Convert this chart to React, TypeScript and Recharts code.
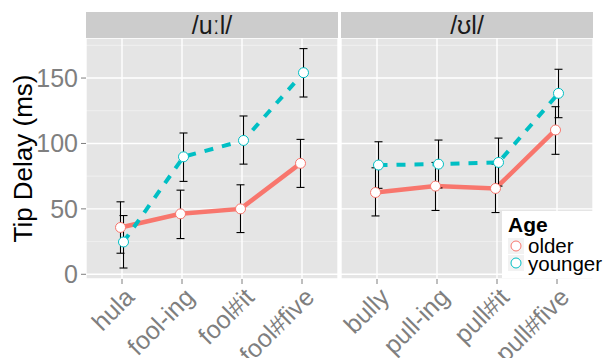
import React from "react";
import { LineChart, Line, XAxis, YAxis, CartesianGrid, ErrorBar } from "recharts";

// /uːl/ panel
const uulCats = ["hula", "fool-ing", "fool#it", "fool#five"];
const uulOlder = [35.8, 46.2, 50.0, 84.8];
const uulOlderLo = [16.1, 27.3, 31.9, 66.4];
const uulOlderHi = [55.4, 64.3, 68.4, 103.1];
const uulYounger = [24.7, 89.8, 102.3, 154.1];
const uulYoungerLo = [4.8, 71.0, 84.2, 135.5];
const uulYoungerHi = [44.9, 108.0, 121.0, 172.5];

// /ʊl/ panel
const ulCats = ["bully", "pull-ing", "pull#it", "pull#five"];
const ulOlder = [62.5, 67.4, 65.6, 110.3];
const ulOlderLo = [44.6, 48.8, 47.2, 91.7];
const ulOlderHi = [81.4, 85.5, 84.2, 128.1];
const ulYounger = [83.5, 84.2, 85.5, 138.3];
const ulYoungerLo = [65.7, 66.0, 67.4, 119.7];
const ulYoungerHi = [101.3, 102.6, 104.1, 156.7];

const yTicks = [0, 50, 100, 150];
const yMinor = [25, 75, 125, 175];

const FONT = '"Liberation Sans", Arial, Helvetica, sans-serif';
const RED = "#F8766D";
const CYAN = "#00BFC4";
const GREY = "#7f7f7f";
const DODGE = 0.025;

const rows = (vals: number[], lo: number[], hi: number[], shift: number) =>
  vals.map((v, i) => ({ x: i + 1 + shift, y: v, err: [v - lo[i], hi[i] - v] }));

// rotated category labels, right end hung at the tick
const XTick = ({ x, y, payload, cats }: any) => {
  const label = cats[Math.round(payload.value) - 1];
  const ax = x + 1;
  return (
    <text
      x={ax}
      y={y}
      dy="0.72em"
      transform={`rotate(-45 ${ax} ${y})`}
      textAnchor="end"
      fill={GREY}
      fontSize={25}
      fontFamily={FONT}
    >
      {label}
    </text>
  );
};

const YTitle = ({ viewBox }: any) => {
  const cx = viewBox.x + 32;
  const cy = viewBox.y + viewBox.height / 2;
  return (
    <text
      x={cx}
      y={cy}
      transform={`rotate(-90 ${cx} ${cy})`}
      textAnchor="middle"
      fill="#000"
      fontSize={26}
      fontFamily={FONT}
    >
      Tip Delay (ms)
    </text>
  );
};

interface PanelProps {
  cats: string[];
  older: any[];
  younger: any[];
  showY: boolean;
  width: number;
  margin: any;
}

const Panel = ({ cats, older, younger, showY, width, margin }: PanelProps) => (
  <LineChart width={width} height={358} margin={margin}>
    <CartesianGrid
      fill="#e5e5e5"
      stroke="#f2f2f2"
      strokeWidth={0.8}
      strokeDasharray=""
      vertical={false}
      horizontalValues={yMinor}
    />
    <CartesianGrid stroke="#ffffff" strokeWidth={1.4} strokeDasharray="" />
    <XAxis
      type="number"
      dataKey="x"
      domain={[0.4, 4.6]}
      ticks={[1, 2, 3, 4]}
      axisLine={false}
      tickLine={{ stroke: GREY }}
      tickSize={5}
      tickMargin={2}
      height={79}
      interval={0}
      tick={<XTick cats={cats} />}
    />
    <YAxis
      type="number"
      domain={[-3.6, 180.6]}
      ticks={yTicks}
      hide={!showY}
      width={86}
      axisLine={false}
      tickLine={{ stroke: GREY }}
      tickSize={5}
      tickMargin={3}
      tick={{ fill: GREY, fontSize: 25, fontFamily: FONT }}
      label={showY ? { content: <YTitle /> } : undefined}
    />
    <Line
      data={older}
      dataKey="y"
      stroke={RED}
      strokeWidth={4.5}
      dot={{ r: 5, fill: "#fff", stroke: RED, strokeWidth: 1 }}
      activeDot={false}
      isAnimationActive={false}
    >
      <ErrorBar dataKey="err" direction="y" width={4} stroke="#000" strokeWidth={1.1} isAnimationActive={false} />
    </Line>
    <Line
      data={younger}
      dataKey="y"
      stroke={CYAN}
      strokeWidth={4}
      strokeDasharray="9 9"
      dot={{ r: 5, fill: "#fff", stroke: CYAN, strokeWidth: 1, strokeDasharray: "" }}
      activeDot={false}
      isAnimationActive={false}
    >
      <ErrorBar dataKey="err" direction="y" width={4} stroke="#000" strokeWidth={1.1} isAnimationActive={false} />
    </Line>
  </LineChart>
);

const Strip = ({ left, text }: { left: number; text: string }) => (
  <div
    style={{
      position: "absolute",
      left,
      top: 12,
      width: 252,
      height: 26,
      background: "#cccccc",
      color: "#1a1a1a",
      fontFamily: FONT,
      fontSize: 25,
      lineHeight: "27px",
      textAlign: "center",
    }}
  >
    {text}
  </div>
);

const KeyRow = ({ color, label }: { color: string; label: string }) => (
  <div style={{ display: "flex", alignItems: "center", height: 17.5 }}>
    <svg width={16} height={16} style={{ background: "#f2f2f2", marginRight: 4, flexShrink: 0 }}>
      <circle cx={8} cy={8} r={5} fill="#fff" stroke={color} strokeWidth={1} />
    </svg>
    <span style={{ fontSize: 20.5, lineHeight: "17px", whiteSpace: "nowrap" }}>{label}</span>
  </div>
);

export default function App() {
  const uulO = rows(uulOlder, uulOlderLo, uulOlderHi, -DODGE);
  const uulY = rows(uulYounger, uulYoungerLo, uulYoungerHi, DODGE);
  const ulO = rows(ulOlder, ulOlderLo, ulOlderHi, -DODGE);
  const ulY = rows(ulYounger, ulYoungerLo, ulYoungerHi, DODGE);

  return (
    <div style={{ position: "absolute", left: 0, top: 0, width: 604, height: 358, background: "#fff", fontFamily: FONT }}>
      <div style={{ position: "absolute", left: 0, top: 0 }}>
        <Panel cats={uulCats} older={uulO} younger={uulY} showY width={340} margin={{ top: 38, right: 2, left: 0, bottom: 0 }} />
      </div>
      <div style={{ position: "absolute", left: 300, top: 0 }}>
        <Panel cats={ulCats} older={ulO} younger={ulY} showY={false} width={304} margin={{ top: 38, right: 11, left: 41, bottom: 0 }} />
      </div>
      <Strip left={86} text="/uːl/" />
      <Strip left={341} text="/ʊl/" />
      <div
        style={{
          position: "absolute",
          left: 502,
          top: 211,
          width: 91,
          height: 67,
          background: "#fff",
          color: "#000",
          boxSizing: "border-box",
          padding: "3px 0 0 6px",
        }}
      >
        <div style={{ fontWeight: "bold", fontSize: 21, lineHeight: "22px", marginBottom: 1 }}>Age</div>
        <KeyRow color={RED} label="older" />
        <KeyRow color={CYAN} label="younger" />
      </div>
    </div>
  );
}
